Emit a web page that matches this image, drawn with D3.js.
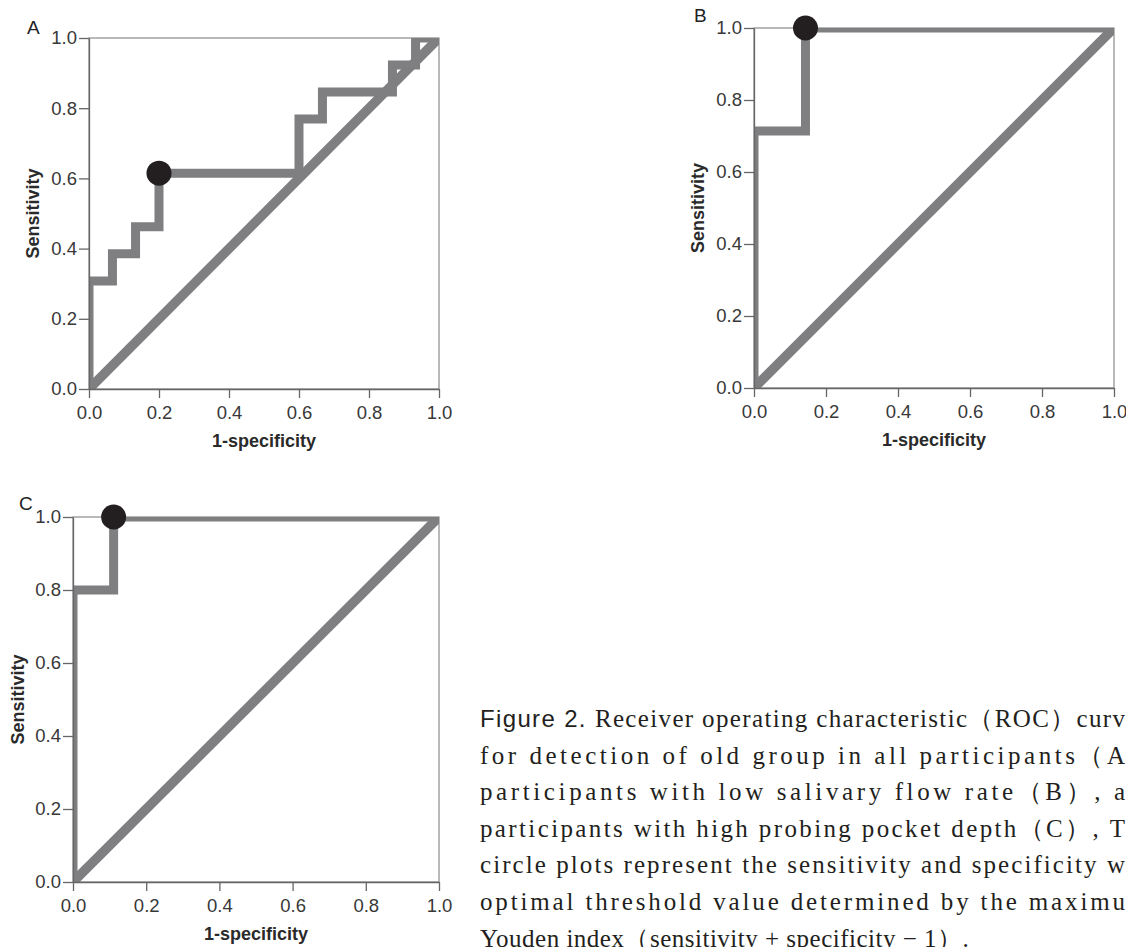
<!DOCTYPE html>
<html>
<head>
<meta charset="utf-8">
<script src="https://cdn.jsdelivr.net/npm/d3@7"></script>
<style>
  body { margin: 0; background: #fff; }
  svg { display: block; }
</style>
</head>
<body>
<div id="chart"></div>
<script>
const ticks = [0, 0.2, 0.4, 0.6, 0.8, 1.0]
const panelNames = ['A', 'B', 'C']

// ROC coordinates (1-specificity, sensitivity)
const fprA = [0, 0, 0.067, 0.067, 0.133, 0.133, 0.2, 0.2, 0.6, 0.6, 0.667, 0.667, 0.867, 0.867, 0.933, 0.933, 1]
const tprA = [0, 0.308, 0.308, 0.385, 0.385, 0.462, 0.462, 0.615, 0.615, 0.769, 0.769, 0.846, 0.846, 0.923, 0.923, 1, 1]
const fprB = [0, 0, 0.143, 0.143, 1]
const tprB = [0, 0.714, 0.714, 1, 1]
const fprC = [0, 0, 0.111, 0.111, 1]
const tprC = [0, 0.8, 0.8, 1, 1]
const diagonal = [0, 1]

// optimal cut-off (max Youden index)
const cutFpr = [0.2, 0.143, 0.111]
const cutTpr = [0.615, 1, 1]

const captionLines = [
  'for detection of old group in all participants\uFF08A',
  'participants with low salivary flow rate\uFF08B\uFF09, a',
  'participants with high probing pocket depth\uFF08C\uFF09, T',
  'circle plots represent the sensitivity and specificity w',
  'optimal threshold value determined by the maximu',
  'Youden index\uFF08sensitivity + specificity \u2212 1\uFF09.'
]

const sans = "'Liberation Sans', Arial, sans-serif"
const serif = "'Liberation Serif', 'Times New Roman', serif"
const grey = '#7f7f81'

const svg = d3
  .select('#chart')
  .append('svg')
  .attr('width', 1126)
  .attr('height', 947)

svg.append('rect').attr('width', 1126).attr('height', 947).attr('fill', '#fff')

// where each panel sits on the page
const boxes = [
  { left: 89, right: 439, top: 38, bottom: 389, lab: [27, 34], ylab: 39 },
  { left: 754, right: 1114, top: 28, bottom: 388, lab: [694, 22], ylab: 704 },
  { left: 73, right: 439, top: 517, bottom: 882, lab: [19, 510], ylab: 24 }
]
const curves = [
  [fprA, tprA],
  [fprB, tprB],
  [fprC, tprC]
]

boxes.forEach((b, i) => {
  const x = d3.scaleLinear().domain([0, 1]).range([b.left, b.right])
  const y = d3.scaleLinear().domain([0, 1]).range([b.bottom, b.top])
  const g = svg.append('g')

  g.append('defs')
    .append('clipPath')
    .attr('id', 'clip' + i)
    .append('rect')
    .attr('x', b.left)
    .attr('y', b.top)
    .attr('width', b.right - b.left)
    .attr('height', b.bottom - b.top)

  // frame
  g.append('rect')
    .attr('x', b.left)
    .attr('y', b.top)
    .attr('width', b.right - b.left)
    .attr('height', b.bottom - b.top)
    .attr('fill', 'none')
    .attr('stroke', '#8a8a8a')
    .attr('stroke-width', 1.2)

  const line = d3
    .line()
    .x((d) => x(d[0]))
    .y((d) => y(d[1]))

  const plot = g.append('g').attr('clip-path', 'url(#clip' + i + ')')

  plot
    .append('path')
    .datum(d3.zip(diagonal, diagonal))
    .attr('d', line)
    .attr('fill', 'none')
    .attr('stroke', grey)
    .attr('stroke-width', 9.5)

  plot
    .append('path')
    .datum(d3.zip(curves[i][0], curves[i][1]))
    .attr('d', line)
    .attr('fill', 'none')
    .attr('stroke', grey)
    .attr('stroke-width', 9)
    .attr('stroke-linejoin', 'miter')

  const yAxis = d3
    .axisLeft(y)
    .tickValues(ticks)
    .tickFormat(d3.format('.1f'))
    .tickSize(10)
    .tickSizeOuter(0)
    .tickPadding(2)

  const xAxis = d3
    .axisBottom(x)
    .tickValues(ticks)
    .tickFormat(d3.format('.1f'))
    .tickSize(9)
    .tickSizeOuter(0)
    .tickPadding(8)

  const ya = g.append('g').attr('transform', 'translate(' + b.left + ',0)').call(yAxis)
  const xa = g.append('g').attr('transform', 'translate(0,' + b.bottom + ')').call(xAxis)

  ;[ya, xa].forEach((a) => {
    a.selectAll('path, line').attr('stroke', '#666').attr('stroke-width', 1.3)
    a.selectAll('text')
      .style('font-family', sans)
      .style('font-size', '18.5px')
      .attr('fill', '#383838')
  })

  g.append('circle')
    .attr('cx', x(cutFpr[i]))
    .attr('cy', y(cutTpr[i]))
    .attr('r', 12.5)
    .attr('fill', '#231f20')

  g.append('text')
    .attr('x', (b.left + b.right) / 2)
    .attr('y', b.bottom + 58)
    .attr('text-anchor', 'middle')
    .style('font-family', sans)
    .style('font-size', '18px')
    .style('font-weight', 700)
    .attr('fill', '#2a2a2a')
    .text('1-specificity')

  g.append('text')
    .attr('transform', 'translate(' + b.ylab + ',' + (b.top + b.bottom) / 2 + ') rotate(-90)')
    .attr('text-anchor', 'middle')
    .style('font-family', sans)
    .style('font-size', '18px')
    .style('font-weight', 700)
    .attr('fill', '#2a2a2a')
    .text('Sensitivity')

  g.append('text')
    .attr('x', b.lab[0])
    .attr('y', b.lab[1])
    .style('font-family', sans)
    .style('font-size', '19px')
    .attr('fill', '#222')
    .text(panelNames[i])
})

// caption (cut at the page edge, as in the source figure)
const cap = svg.append('g')
const first = cap
  .append('text')
  .attr('x', 480)
  .attr('y', 727)
  .attr('textLength', 645)
  .attr('lengthAdjust', 'spacing')
  .attr('fill', '#231f20')
first
  .append('tspan')
  .style('font-family', sans)
  .style('font-size', '24px')
  .text('Figure 2. ')
first
  .append('tspan')
  .style('font-family', serif)
  .style('font-size', '25px')
  .text('Receiver operating characteristic\uFF08ROC\uFF09curv')

captionLines.forEach((t, k) => {
  const el = cap
    .append('text')
    .attr('x', 480)
    .attr('y', 763.5 + k * 36.6)
    .style('font-family', serif)
    .style('font-size', '25px')
    .attr('fill', '#231f20')
    .text(t)
  if (k < captionLines.length - 1) {
    el.attr('textLength', 645).attr('lengthAdjust', 'spacing')
  } else {
    el.style('letter-spacing', '0.5px')
  }
})
</script>
</body>
</html>
